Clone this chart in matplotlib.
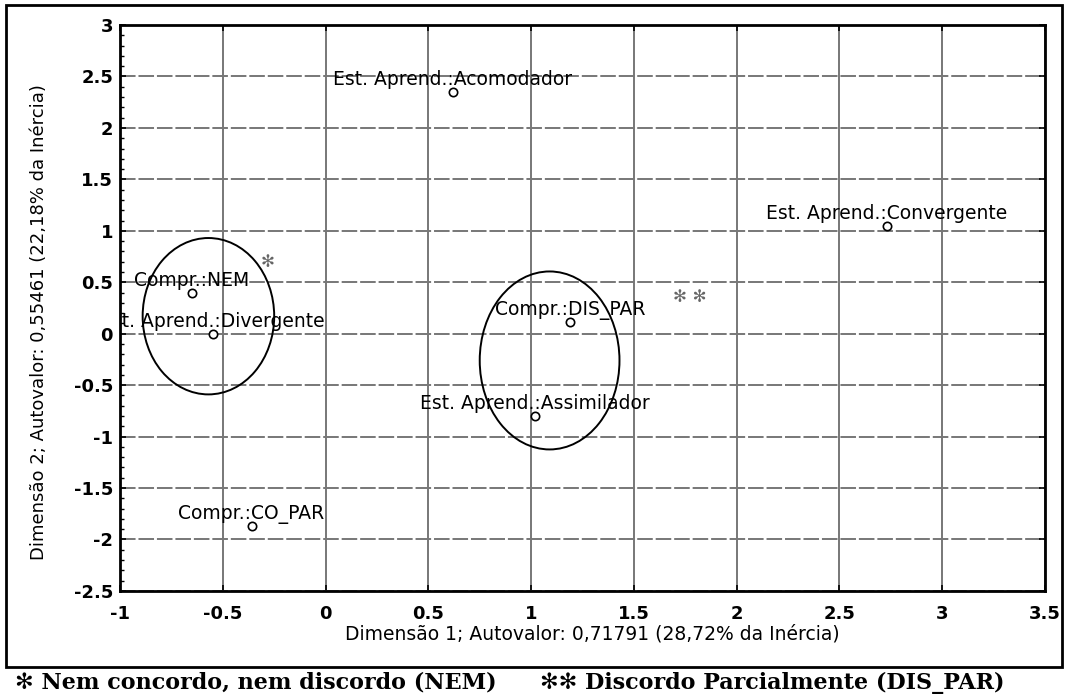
import matplotlib.pyplot as plt
import numpy as np
from matplotlib.patches import Ellipse, Rectangle
from matplotlib.ticker import MultipleLocator

# category coordinates (Dimension 1, Dimension 2)
labels = ['Est. Aprend.:Acomodador', 'Est. Aprend.:Convergente', 'Compr.:NEM',
          'Est. Aprend.:Divergente', 'Compr.:DIS_PAR', 'Est. Aprend.:Assimilador',
          'Compr.:CO_PAR']
dim1 = [0.62, 2.73, -0.65, -0.55, 1.19, 1.02, -0.36]
dim2 = [2.35, 1.05, 0.40, 0.00, 0.11, -0.80, -1.87]

# grouping ellipses: centre x, centre y, width, height
ell_x = [-0.57, 1.09]
ell_y = [0.17, -0.26]
ell_w = [0.64, 0.68]
ell_h = [1.52, 1.73]

# asterisk markers next to the grouped categories
star_x = [-0.28, 1.77]
star_y = [0.70, 0.36]
star_txt = ['\u273b', '\u273b \u273b']

xticks = [-1, -0.5, 0, 0.5, 1, 1.5, 2, 2.5, 3, 3.5]
yticks = [-2.5, -2, -1.5, -1, -0.5, 0, 0.5, 1, 1.5, 2, 2.5, 3]

fig = plt.figure(figsize=(10.68, 6.96), dpi=100)
ax = fig.add_axes([0.1124, 0.151, 0.866, 0.813])

ax.set_xlim(-1, 3.5)
ax.set_ylim(-2.5, 3)
ax.set_xticks(xticks)
ax.set_yticks(yticks)
ax.set_xticklabels([f'{v:g}' for v in xticks])
ax.set_yticklabels([f'{v:g}' for v in yticks])
ax.yaxis.set_minor_locator(MultipleLocator(0.1))
ax.tick_params(axis='both', which='major', direction='in', length=4, width=1.2,
               labelsize=13, top=True, right=True)
ax.tick_params(axis='x', pad=10)
ax.tick_params(axis='y', pad=5)
ax.tick_params(axis='y', which='minor', direction='in', length=3, width=1)
for lab in ax.get_xticklabels() + ax.get_yticklabels():
    lab.set_fontweight('bold')
    lab.set_family('DejaVu Sans')

ax.xaxis.grid(True, color='#777777', linewidth=1.4, linestyle='-')
ax.yaxis.grid(True, color='#777777', linewidth=1.4, linestyle=(0, (8, 1.5)))
ax.set_axisbelow(True)
for s in ax.spines.values():
    s.set_linewidth(2)

ax.scatter(dim1, dim2, s=36, facecolors='white', edgecolors='black', linewidths=1.2, zorder=3)
for x, y, t in zip(dim1, dim2, labels):
    ax.annotate(t, (x, y), xytext=(0, 5), textcoords='offset points', ha='center', va='baseline',
                fontsize=13.5, family='DejaVu Sans', color='black', annotation_clip=False,
                clip_on=True, zorder=4)

for cx, cy, w, h in zip(ell_x, ell_y, ell_w, ell_h):
    ax.add_patch(Ellipse((cx, cy), w, h, fill=False, edgecolor='black', linewidth=1.4, zorder=3))

for sx, sy, st in zip(star_x, star_y, star_txt):
    ax.text(sx, sy, st, fontsize=12, ha='center', va='center', color='#666666',
            family='DejaVu Sans', fontweight='bold')

ax.set_xlabel('Dimensão 1; Autovalor: 0,71791 (28,72% da Inércia)', fontsize=13.5,
              family='DejaVu Sans')
ax.xaxis.set_label_coords(0.511, -0.06)
ax.set_ylabel('Dimensão 2; Autovalor: 0,55461 (22,18% da Inércia)', fontsize=13,
              family='DejaVu Sans')
ax.yaxis.set_label_coords(-0.078, 0.475)

fig.patches.append(Rectangle((0.006, 0.0417), 0.988, 0.951, transform=fig.transFigure,
                             fill=False, edgecolor='black', linewidth=2))

fig.text(0.014, 0.019, '\u273b Nem concordo, nem discordo (NEM)', fontsize=16,
         family=['DejaVu Serif', 'DejaVu Sans'], fontweight='bold', va='center', ha='left')
fig.text(0.506, 0.019, '\u273b\u273b Discordo Parcialmente (DIS_PAR)', fontsize=16,
         family=['DejaVu Serif', 'DejaVu Sans'], fontweight='bold', va='center', ha='left')

fig.savefig('out.png', dpi=100)
